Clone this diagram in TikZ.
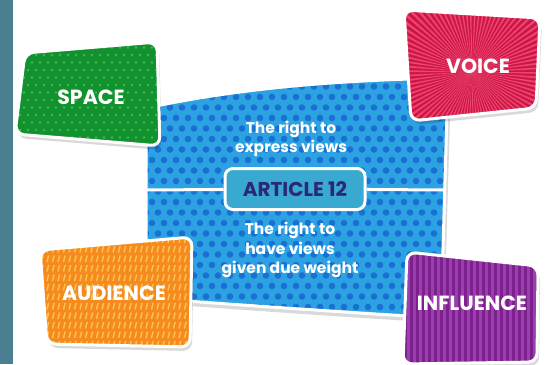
\documentclass[tikz,border=0pt]{standalone}
\usepackage{fontspec}
\setmainfont{Poppins}
\usetikzlibrary{math}

\definecolor{stripcol}{HTML}{497F91}
\definecolor{bluefill}{HTML}{2DA2E3}
\definecolor{bluedot}{HTML}{1A6FD2}
\definecolor{artfill}{HTML}{3AA9CF}
\definecolor{arttext}{HTML}{2B2876}
\definecolor{spacefill}{HTML}{12922E}
\definecolor{spacedot}{HTML}{45B553}
\definecolor{voicefill}{HTML}{D11446}
\definecolor{voiceray}{HTML}{E8476F}
\definecolor{audfill}{HTML}{F58A1F}
\definecolor{auddash}{HTML}{FFBF4D}
\definecolor{inflfill}{HTML}{7D1F8C}
\definecolor{inflray}{HTML}{9A3FAE}

% outlines of the shapes
\def\blueshape{(146,108) .. controls (250,86) and (350,80) .. (448,78) -- (441,318) .. controls (340,312) and (240,305) .. (146,298) -- cycle}
\def\spacecard{(25,53) -- (157,42) -- (160,146) -- (15,134) -- cycle}
\def\voicecard{(404,10) -- (540,18) -- (536,108) -- (411,121) -- cycle}
\def\audcard{(40,250) -- (192,237) -- (190,347) -- (47,344) -- cycle}
\def\inflcard{(407,252) -- (538,266) -- (537,362) -- (403,364) -- cycle}

\begin{document}
\begin{tikzpicture}[x=1pt,y=-1pt,
      rim/.style={draw=white,line width=3pt,rounded corners=9pt},
      drop/.style={fill=black,opacity=.15,rounded corners=9pt},
      cardtext/.style={text=white,font=\fontsize{20.5}{22}\selectfont\bfseries},
      bluetext/.style={text=white,align=center,font=\fontsize{15.5}{19.5}\selectfont\bfseries}]
    \useasboundingbox (0,0) rectangle (545,364);
    \fill[stripcol] (0,0) rectangle (13,364);

    % central dotted field
    \begin{scope}[shift={(3,5)}]
      \fill[drop,rounded corners=2pt] \blueshape;
    \end{scope}
    \begin{scope}
      \clip \blueshape;
      \fill[bluefill] (140,70) rectangle (455,325);
      \foreach \r in {0,...,23} {
        \foreach \c in {0,...,26} {
          \tikzmath{\x=140+\c*12+mod(\r,2)*6; \y=76+\r*10.5;}
          \fill[bluedot] (\x,\y) circle [radius=3.3];
        }
      }
    \end{scope}
    \draw[white,line width=3pt] \blueshape;

    \coordinate (lineL) at (146,190);
    \coordinate (lineR) at (446,190);
    \node[draw=white,line width=3pt,fill=artfill,rounded corners=8pt,
          minimum width=140pt,minimum height=41pt,text=arttext,
          font=\fontsize{20}{22}\selectfont\bfseries] (article) at (295,189) {ARTICLE 12};
    \draw[white,line width=3pt] (lineL) -- (article);
    \draw[white,line width=3pt] (article) -- (lineR);

    \node[bluetext] (express) at (291,139) {The right to\\express views};
    \node[bluetext] (weight) at (290,250) {The right to\\have views\\given due weight};

    % space card
    \begin{scope}[shift={(2,4)}]
      \fill[drop] \spacecard;
    \end{scope}
    \begin{scope}
      \clip[rounded corners=9pt] \spacecard;
      \fill[spacefill] (10,35) rectangle (165,150);
      \foreach \r in {0,...,15} {
        \foreach \c in {0,...,19} {
          \tikzmath{\x=12+\c*8+mod(\r,2)*4; \y=40+\r*7.5;}
          \fill[spacedot] (\x,\y) circle [radius=1.3];
        }
      }
    \end{scope}
    \draw[rim] \spacecard;
    \node[cardtext] (space) at (91,97) {SPACE};

    % voice card
    \begin{scope}[shift={(2,4)}]
      \fill[drop] \voicecard;
    \end{scope}
    \begin{scope}
      \clip[rounded corners=9pt] \voicecard;
      \fill[voicefill] (400,5) rectangle (545,125);
      \foreach \a in {0,4,...,356}
        \fill[voiceray] (472,72) -- +(\a:170) -- +(\a+1.6:170) -- cycle;
    \end{scope}
    \draw[rim] \voicecard;
    \node[cardtext] (voice) at (478,66) {VOICE};

    % audience card
    \begin{scope}[shift={(2,4)}]
      \fill[drop] \audcard;
    \end{scope}
    \begin{scope}
      \clip[rounded corners=9pt] \audcard;
      \fill[audfill] (35,230) rectangle (197,352);
      \foreach \r in {0,...,12} {
        \foreach \c in {0,...,29} {
          \tikzmath{\x=36+\c*5.5; \y=243+\r*9.5;}
          \draw[auddash,line width=1.5pt] (\x,\y) -- ++(1.6,-6.5);
        }
      }
    \end{scope}
    \draw[rim] \audcard;
    \node[cardtext] (audience) at (114,293) {AUDIENCE};

    % influence card
    \begin{scope}[shift={(2,4)}]
      \fill[drop] \inflcard;
    \end{scope}
    \begin{scope}
      \clip[rounded corners=9pt] \inflcard;
      \fill[inflfill] (398,245) rectangle (545,368);
      \foreach \x in {401,407,...,541}
        \fill[inflray] (\x,245) rectangle +(2.6,125);
    \end{scope}
    \draw[rim] \inflcard;
    \node[cardtext] (influence) at (472,303) {INFLUENCE};
  \end{tikzpicture}
\end{document}
